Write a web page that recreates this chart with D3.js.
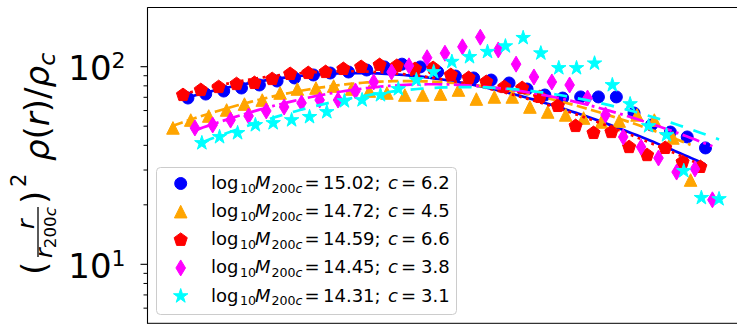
<!DOCTYPE html>
<html><head><meta charset="utf-8">
<script src="https://cdn.jsdelivr.net/npm/d3@7"></script>
<style>body{margin:0;background:#fff}svg{display:block}</style>
</head><body>
<svg id="chart" width="737" height="324"></svg>
<script>
// ---- data ----
const logMass = ["15.02", "14.72", "14.59", "14.45", "14.31"];
const concentration = [6.2, 4.5, 6.6, 3.8, 3.1];
const yTickValues = [10, 100];

const xBlue = [0.0543,0.0609,0.0684,0.0767,0.0861,0.0965,0.108,0.122,0.136,0.153,0.172,0.193,0.216,0.243,0.272,0.305,0.343,0.384,0.431,0.484,0.543,0.609,0.684,0.767,0.861,0.965,1.08,1.22,1.36,1.53];
const yBlue = [69.4,72.7,75.3,78.0,80.8,84.6,87.7,90.8,92.9,94.0,96.2,99.7,103,99.7,94.0,89.7,87.7,85.6,82.7,77.1,71.9,69.4,70.3,70.3,70.3,58.3,50.7,46.7,44.1,38.8];

const xOrange = [0.0493,0.0553,0.0621,0.0697,0.0782,0.0877,0.0984,0.110,0.124,0.139,0.156,0.175,0.196,0.220,0.247,0.277,0.311,0.349,0.392,0.440,0.493,0.553,0.621,0.697,0.782,0.877,0.984,1.10,1.24,1.39];
const yOrange = [49.0,53.7,56.3,60.4,64.7,67.8,73.6,77.1,78.0,79.8,77.1,75.3,73.6,71.9,71.9,72.7,76.2,68.6,70.3,70.3,62.5,59.0,57.0,55.0,52.5,53.1,57.0,53.7,43.6,26.7];

const xRed = [0.0526,0.0590,0.0662,0.0743,0.0834,0.0935,0.105,0.118,0.132,0.148,0.166,0.187,0.209,0.235,0.264,0.296,0.332,0.372,0.418,0.469,0.526,0.590,0.662,0.743,0.834,0.935,1.05,1.18,1.32,1.48];
const yRed = [71.9,76.2,78.9,81.7,82.7,86.6,91.9,92.9,94.0,97.4,99.7,102,101,97.4,98.5,90.8,87.7,83.7,78.9,78.0,70.3,63.3,50.1,46.2,46.7,39.2,35.7,38.8,32.9,31.1];

const xMagenta = [0.0568,0.0637,0.0715,0.0803,0.0900,0.101,0.113,0.127,0.143,0.160,0.180,0.202,0.226,0.254,0.285,0.319,0.358,0.402,0.451,0.506,0.568,0.637,0.715,0.803,0.900,1.01,1.13,1.27,1.43,1.60];
const yMagenta = [49.0,50.7,53.7,56.3,59.7,62.5,65.5,67.8,67.8,75.3,83.7,94.0,101,111,117,126,141,121.5,103,88.7,83.7,80.8,69.4,57.0,44.1,39.2,34.5,29.3,30.4,21.2];

const xCyan = [0.0594,0.0666,0.0748,0.0839,0.0941,0.106,0.119,0.133,0.149,0.167,0.188,0.211,0.237,0.265,0.298,0.334,0.375,0.421,0.472,0.529,0.594,0.666,0.748,0.839,0.941,1.06,1.19,1.33,1.49,1.67];
const yCyan = [41.1,44.1,46.2,50.7,51.9,53.7,55.7,59.0,67.0,67.8,71.9,77.1,85.6,94.0,106,112,119,127,140,117,98.5,98.5,104,80.8,64.7,50.1,45.1,29.7,21.7,21.4];

// ---- styling ----
const series = [
  {x: xBlue,    y: yBlue,    color: "#0000ff", marker: "circle",   dash: null},
  {x: xOrange,  y: yOrange,  color: "#ffa500", marker: "triangle", dash: "10.3,4.4"},
  {x: xRed,     y: yRed,     color: "#ff0000", marker: "pentagon", dash: "2.8,4.6"},
  {x: xMagenta, y: yMagenta, color: "#ff00ff", marker: "diamond",  dash: "17.8,4.4,2.8,4.4"},
  {x: xCyan,    y: yCyan,    color: "#00ffff", marker: "star",     dash: "13,11"}
];
series.forEach((s, i) => { s.c = concentration[i]; s.m = logMass[i]; });

const svg = d3.select("#chart");
const L = 147.5, R = 747, T = 7.2, B = 323.8;
const x = d3.scaleLog().domain([0.0417, 2]).range([147, 747]);
const y = d3.scaleLog().domain([5, 200]).range([B, T]);

function markerPath(type) {
  if (type === "circle") { const r = 6; return `M${r},0A${r},${r} 0 1,1 ${-r},0A${r},${r} 0 1,1 ${r},0Z`; }
  if (type === "triangle") { const s = 6.3; return `M0,${-s}L${s},${s}L${-s},${s}Z`; }
  if (type === "pentagon") {
    const s = 6.9; let p = [];
    for (let k = 0; k < 5; k++) { const a = -Math.PI/2 + k*2*Math.PI/5; p.push([s*Math.cos(a), s*Math.sin(a)]); }
    return "M" + p.map(q => q.join(",")).join("L") + "Z";
  }
  if (type === "diamond") { const s = 8; return `M0,${-s}L${0.6*s},0L0,${s}L${-0.6*s},0Z`; }
  if (type === "star") {
    const s = 7.6, r2 = s*0.381966; let p = [];
    for (let k = 0; k < 10; k++) { const a = -Math.PI/2 + k*Math.PI/5; const rr = k%2 ? r2 : s; p.push([rr*Math.cos(a), rr*Math.sin(a)]); }
    return "M" + p.map(q => q.join(",")).join("L") + "Z";
  }
}

// NFW model curve with concentration c (from legend)
function nfw(xx, c) {
  const m = Math.log(1 + c) - c / (1 + c);
  return (200/3) * c * c * xx / (m * (1 + c*xx) * (1 + c*xx));
}

svg.append("defs").append("clipPath").attr("id", "clip")
  .append("rect").attr("x", L).attr("y", T).attr("width", R - L).attr("height", B - T);

const plot = svg.append("g").attr("clip-path", "url(#clip)");
const line = d3.line().x(d => x(d[0])).y(d => y(d[1]));

series.forEach(s => {
  const g = plot.append("g");
  g.selectAll("path.pt").data(s.x.map((v, i) => [v, s.y[i]])).join("path")
    .attr("class", "pt")
    .attr("d", markerPath(s.marker))
    .attr("transform", d => `translate(${x(d[0])},${y(d[1])})`)
    .attr("fill", s.color).attr("stroke", s.color).attr("stroke-width", 1);
  const x0 = s.x[0], x1 = s.x[s.x.length - 1];
  const samples = d3.range(0, 121).map(k => { const xx = x0 * Math.pow(x1 / x0, k / 120); return [xx, nfw(xx, s.c)]; });
  g.append("path").attr("d", line(samples)).attr("fill", "none")
    .attr("stroke", s.color).attr("stroke-width", 2.7)
    .attr("stroke-dasharray", s.dash);
});

// ---- axes ----
const ax = svg.append("g");
ax.append("line").attr("x1", L).attr("x2", L).attr("y1", T).attr("y2", B).attr("stroke", "#000").attr("stroke-width", 1.1);
ax.append("line").attr("x1", L).attr("x2", 737).attr("y1", 7.5).attr("y2", 7.5).attr("stroke", "#000").attr("stroke-width", 1.1);
ax.append("line").attr("x1", L).attr("x2", 737).attr("y1", 323.3).attr("y2", 323.3).attr("stroke", "#000").attr("stroke-width", 1);

const minor = [6,7,8,9,20,30,40,50,60,70,80,90];
minor.forEach(v => {
  ax.append("line").attr("x1", L - 4).attr("x2", L).attr("y1", y(v)).attr("y2", y(v)).attr("stroke", "#000").attr("stroke-width", 1);
});
yTickValues.forEach(v => {
  const yy = y(v);
  ax.append("line").attr("x1", L - 7).attr("x2", L).attr("y1", yy).attr("y2", yy).attr("stroke", "#000").attr("stroke-width", 1.1);
  const t = ax.append("text").attr("y", yy + 13.3).style("font-family", "DejaVu Sans").style("font-size", "34px").attr("fill", "#000");
  t.append("tspan").attr("x", 68.3).text("10");
  t.append("tspan").attr("x", 111.5).attr("dy", -11.7).style("font-size", "22px").text(String(Math.round(Math.log10(v))));
});

// ---- y label ----
const gl = svg.append("g").attr("transform", "translate(49,273) rotate(-90)")
  .style("font-family", "DejaVu Sans").attr("fill", "#000");
gl.append("text").attr("x", -2).attr("y", -3).style("font-size", "34px").text("(");
gl.append("text").attr("x", 44).attr("y", -15).style("font-size", "23.8px").style("font-style", "italic").text("r");
gl.append("line").attr("x1", 16).attr("x2", 66).attr("y1", -11).attr("y2", -11).attr("stroke", "#000").attr("stroke-width", 1.3);
const den = gl.append("text").attr("x", 15).attr("y", 3).style("font-size", "23.8px");
den.append("tspan").style("font-style", "italic").text("r");
den.append("tspan").attr("dy", 4).style("font-size", "16.7px").text("200");
den.append("tspan").style("font-size", "16.7px").style("font-style", "italic").text("c");
gl.append("text").attr("x", 69).attr("y", -3).style("font-size", "34px").text(")");
gl.append("text").attr("x", 86).attr("y", -23).style("font-size", "21px").text("2");
const main = gl.append("text").attr("x", 112).attr("y", 0).style("font-size", "34px");
main.append("tspan").style("font-style", "italic").text("ρ");
main.append("tspan").text("(");
main.append("tspan").style("font-style", "italic").text("r");
main.append("tspan").text(")/");
main.append("tspan").style("font-style", "italic").text("ρ");
main.append("tspan").attr("dy", 6).style("font-size", "23.8px").style("font-style", "italic").text("c");

// ---- legend ----
const lg = svg.append("g");
lg.append("rect").attr("x", 156.5).attr("y", 167.5).attr("width", 300).attr("height", 147).attr("rx", 4)
  .attr("fill", "#fff").attr("fill-opacity", 0.8).attr("stroke", "#cccccc").attr("stroke-width", 1);
series.forEach((s, i) => {
  const cy = 183.5 + 28.15 * i;
  lg.append("path").attr("d", markerPath(s.marker)).attr("transform", `translate(180.7,${cy})`)
    .attr("fill", s.color).attr("stroke", s.color).attr("stroke-width", 1);
  const t = lg.append("text").attr("y", cy + 5.5).style("font-family", "DejaVu Sans").style("font-size", "18px").attr("fill", "#000");
  t.append("tspan").attr("x", 211).text("log");
  t.append("tspan").attr("x", 240).attr("dy", 3.5).style("font-size", "12.6px").text("10");
  t.append("tspan").attr("x", 255).attr("dy", -3.5).style("font-style", "italic").text("M");
  t.append("tspan").attr("x", 271.5).attr("dy", 3.5).style("font-size", "12.6px").text("200");
  t.append("tspan").style("font-size", "12.6px").style("font-style", "italic").text("c");
  t.append("tspan").attr("x", 304.5).attr("dy", -3.5).text("=");
  t.append("tspan").attr("x", 323).text(s.m + ";");
  t.append("tspan").attr("x", 388).style("font-style", "italic").text("c");
  t.append("tspan").attr("x", 401).text("=");
  t.append("tspan").attr("x", 421).text(String(s.c));
});
</script>
</body></html>
